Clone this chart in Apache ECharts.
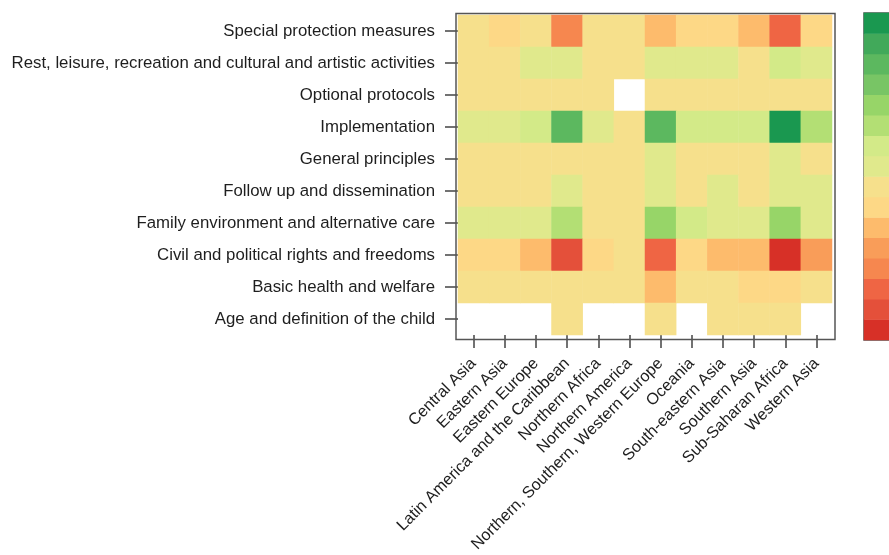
<!DOCTYPE html>
<html>
<head>
<meta charset="utf-8">
<script src="https://cdn.jsdelivr.net/npm/echarts@6/dist/echarts.min.js"></script>
<style>
  html, body { margin: 0; padding: 0; background: #fff; }
  #chart { width: 889px; height: 555px; }
</style>
</head>
<body>
<div id="chart"></div>
<script>
// Regions along the x axis
const regions = [
  'Central Asia', 'Eastern Asia', 'Eastern Europe', 'Latin America and the Caribbean',
  'Northern Africa', 'Northern America', 'Northern, Southern, Western Europe', 'Oceania',
  'South-eastern Asia', 'Southern Asia', 'Sub-Saharan Africa', 'Western Asia'
];

// Topic clusters, top to bottom
const topics = [
  'Special protection measures',
  'Rest, leisure, recreation and cultural and artistic activities',
  'Optional protocols',
  'Implementation',
  'General principles',
  'Follow up and dissemination',
  'Family environment and alternative care',
  'Civil and political rights and freedoms',
  'Basic health and welfare',
  'Age and definition of the child'
];

// Score level per topic (row) and region (column); 1 = lowest, 16 = highest, null = no data
const specialProtection = [8, 7, 8, 4, 8, 8, 6, 7, 7, 6, 3, 7];
const restLeisure       = [8, 8, 9, 9, 8, 8, 9, 9, 9, 8, 10, 9];
const optionalProtocols = [8, 8, 8, 8, 8, null, 8, 8, 8, 8, 8, 8];
const implementation    = [9, 9, 10, 14, 9, 8, 14, 10, 10, 10, 16, 11];
const generalPrinciples = [8, 8, 8, 8, 8, 8, 9, 8, 8, 8, 9, 8];
const followUp          = [8, 8, 8, 9, 8, 8, 9, 8, 9, 8, 9, 9];
const familyEnvironment = [9, 9, 9, 11, 8, 8, 12, 10, 9, 9, 12, 9];
const civilRights       = [7, 7, 6, 2, 7, 8, 3, 7, 6, 6, 1, 5];
const basicHealth       = [8, 8, 8, 8, 8, 8, 6, 8, 8, 7, 7, 8];
const ageDefinition     = [null, null, null, 8, null, null, 8, null, 8, 8, 8, null];

const scoreRows = [
  specialProtection, restLeisure, optionalProtocols, implementation, generalPrinciples,
  followUp, familyEnvironment, civilRights, basicHealth, ageDefinition
];

// Colour scale levels, red (1) to green (16)
const levels = [1, 2, 3, 4, 5, 6, 7, 8, 9, 10, 11, 12, 13, 14, 15, 16];
const levelColors = [
  '#d73027', '#e4503a', '#ef6544', '#f6874f', '#f99d59', '#fdbb6c', '#fdd886', '#f6e08c',
  '#e0e98c', '#d3ea88', '#b3df74', '#97d568', '#78c565', '#5cb85f', '#41a95a', '#1a9850'
];

const cells = [];
scoreRows.forEach((row, r) => {
  row.forEach((v, c) => {
    if (v !== null) cells.push([c, r, v]);
  });
});

const scaleCells = levels.map((lv, i) => [0, i, lv]);

const FONT = 'Liberation Sans, Arial, sans-serif';
const TEXT = '#1e1e1e';
const FRAME = '#555';

const chart = echarts.init(document.getElementById('chart'), null, { renderer: 'canvas' });

chart.setOption({
  animation: false,
  backgroundColor: '#fff',
  grid: [
    { left: 458, top: 15, width: 374, height: 320, outerBoundsMode: 'none', containLabel: false },
    { left: 864, top: 13, width: 40, height: 327, outerBoundsMode: 'none', containLabel: false,
      show: true, borderColor: FRAME, borderWidth: 1.5, backgroundColor: 'transparent' }
  ],
  xAxis: [
    {
      type: 'category', gridIndex: 0, data: regions,
      axisLine: { show: false },
      axisTick: { show: true, alignWithLabel: true, length: 13, lineStyle: { color: '#444', width: 1.5 } },
      axisLabel: { rotate: 45, margin: 26, interval: 0, fontFamily: FONT, fontSize: 16.2, color: TEXT },
      splitLine: { show: false }
    },
    {
      type: 'category', gridIndex: 1, data: [''],
      axisLine: { show: false }, axisTick: { show: false }, axisLabel: { show: false }
    }
  ],
  yAxis: [
    {
      type: 'category', gridIndex: 0, data: topics, inverse: true,
      axisLine: { show: false },
      axisTick: { show: true, alignWithLabel: true, length: 13, lineStyle: { color: '#444', width: 1.5 } },
      axisLabel: { margin: 23, interval: 0, fontFamily: FONT, fontSize: 16.8, color: TEXT },
      splitLine: { show: false }
    },
    {
      type: 'category', gridIndex: 1, data: levels.map(String),
      axisLine: { show: false }, axisTick: { show: false }, axisLabel: { show: false }
    }
  ],
  visualMap: {
    type: 'piecewise',
    show: false,
    dimension: 2,
    seriesIndex: [0, 1],
    pieces: levels.map((lv, i) => ({ value: lv, color: levelColors[i] }))
  },
  series: [
    {
      type: 'heatmap', xAxisIndex: 0, yAxisIndex: 0, data: cells,
      itemStyle: { borderWidth: 0 }, emphasis: { disabled: true }
    },
    {
      type: 'heatmap', xAxisIndex: 1, yAxisIndex: 1, data: scaleCells,
      itemStyle: { borderWidth: 0 }, emphasis: { disabled: true }
    }
  ],
  graphic: [
    {
      type: 'rect', silent: true, z: 100,
      shape: { x: 456, y: 13.5, width: 379, height: 326 },
      style: { fill: 'none', stroke: FRAME, lineWidth: 1.5 }
    }
  ]
});
</script>
</body>
</html>
